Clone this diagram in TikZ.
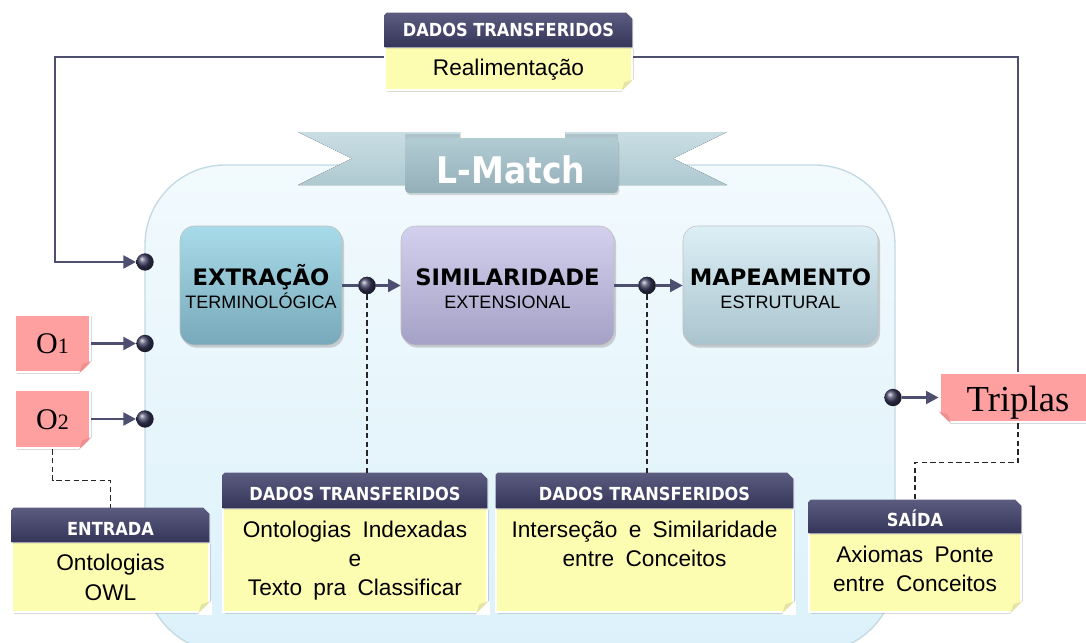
\documentclass[tikz,border=0pt]{standalone}
\usepackage{fontspec}
\setmainfont{Liberation Sans}
\newfontfamily\tahoma[FakeStretch=0.9]{DejaVu Sans}
\newfontfamily\verd{DejaVu Sans}
\newfontfamily\tms{Liberation Serif}
\usetikzlibrary{arrows.meta,shadows,calc,fit}
\definecolor{navyT}{HTML}{5C5C80}
\definecolor{navyB}{HTML}{35355A}
\definecolor{notey}{HTML}{FDFDB2}
\definecolor{noteflap}{HTML}{E4E4A6}
\definecolor{pinkc}{HTML}{FFA0A0}
\definecolor{pinkflap}{HTML}{EE8E8E}
\definecolor{linec}{HTML}{4E4E70}
\definecolor{dotc}{HTML}{3A3A5E}
\definecolor{contT}{HTML}{F2FAFD}
\definecolor{contB}{HTML}{DCF1FA}
\definecolor{contb}{HTML}{C3D9E3}
\definecolor{ribT}{HTML}{C9DEE4}
\definecolor{ribB}{HTML}{AFC9D1}
\definecolor{ribcT}{HTML}{B2CCD4}
\definecolor{ribcB}{HTML}{94AFB8}
\definecolor{extT}{HTML}{A8DBE9}
\definecolor{extB}{HTML}{78A9BA}
\definecolor{simT}{HTML}{D3D0EE}
\definecolor{simB}{HTML}{A5A1C6}
\definecolor{mapT}{HTML}{DCEFF6}
\definecolor{mapB}{HTML}{AAC4CE}
\newcommand{\widesp}{\spaceskip=0.5em plus 0.1em\relax}
\newcommand{\foldSE}[2]{%
  \fill[white] ($(#1.south east)+(-13,1.5)$) -- ($(#1.south east)+(1.5,1.5)$) -- ($(#1.south east)+(1.5,-13)$) -- cycle;
  \fill[#2] ($(#1.south east)+(-12,0)$) -- ($(#1.south east)+(-9,-9)$) -- ($(#1.south east)+(0,-12)$) -- cycle;}
\newcommand{\foldSW}[2]{%
  \fill[white] ($(#1.south west)+(13,1.5)$) -- ($(#1.south west)+(-1.5,1.5)$) -- ($(#1.south west)+(-1.5,-13)$) -- cycle;
  \fill[#2] ($(#1.south west)+(12,0)$) -- ($(#1.south west)+(9,-9)$) -- ($(#1.south west)+(0,-12)$) -- cycle;}
\newcommand{\hdrshape}[1]{%
  \path[top color=navyT, bottom color=navyB, drop shadow={shadow xshift=0.8pt, shadow yshift=-1pt, opacity=0.25}]
    (#1.south west) -- ($(#1.north west)+(0,2)$) -- ($(#1.north west)+(2,0)$) -- ($(#1.north east)+(-6,0)$)
    -- ($(#1.north east)+(0,6)$) -- (#1.south east) -- cycle;}
\tikzset{
  hdr/.style={rectangle, inner sep=0pt, draw=none},
  hdrtxt/.style={anchor=base, inner sep=0pt, text=white, font=\tahoma\bfseries\fontsize{13.5}{16}\selectfont},
  note/.style={rectangle, inner sep=0pt, fill=notey, draw=white, line width=2pt,
    drop shadow={shadow xshift=1.2pt, shadow yshift=-1.8pt, opacity=0.3}},
  notetxt/.style={anchor=base, inner sep=0pt, font=\fontsize{17}{22}\selectfont\widesp},
  pinkbox/.style={rectangle, inner sep=0pt, fill=pinkc, draw=white, line width=2pt,
    drop shadow={shadow xshift=1.2pt, shadow yshift=-1.8pt, opacity=0.3}},
  proc/.style={rectangle, rounded corners=11pt, inner sep=0pt, draw=black!25, line width=0.4pt,
    drop shadow={shadow xshift=1.5pt, shadow yshift=-2pt, opacity=0.35}},
  ptitle/.style={anchor=base, inner sep=0pt, font=\verd\bfseries\fontsize{17}{18}\selectfont},
  psub/.style={anchor=base, inner sep=0pt, font=\fontsize{13.5}{16}\selectfont},
  dot/.style={circle, inner sep=0pt, minimum size=13pt, shading=ball, ball color=dotc},
  ln/.style={draw=linec, line width=2.2pt},
  arr/.style={-{Triangle[length=9.5pt,width=9.5pt]}},
  dsh/.style={draw=black!85, line width=0.9pt, dash pattern=on 4pt off 2.5pt},
}
\begin{document}
\begin{tikzpicture}[x=0.75pt,y=-0.75pt]
\useasboundingbox (0,0) rectangle (1086,643);
% container
\path[draw=contb, line width=1pt, top color=contT, bottom color=contB, rounded corners=60pt]
  (145,165) rectangle (895,652);
% ribbon
\fill[top color=ribT, bottom color=ribB] (298,132) -- (460,132) -- (460,185) -- (298,185) -- (352,158.5) -- cycle;
\fill[top color=ribT, bottom color=ribB] (727,132) -- (565,132) -- (565,185) -- (727,185) -- (673,158.5) -- cycle;
\fill[ribcB!80!black, opacity=0.3] (405,134) rectangle (460,140);
\fill[ribcB!80!black, opacity=0.3] (565,134) rectangle (618,140);
\node[rectangle, inner sep=0pt, rounded corners=3pt, top color=ribcT, bottom color=ribcB,
  drop shadow={shadow xshift=1pt, shadow yshift=-1.5pt, opacity=0.3}, fit={(405,138) (618,193)}] (ban) {};
\node[text=white, anchor=base, inner sep=0pt, font=\tahoma\bfseries\fontsize{27.5}{30}\selectfont] (bant) at (511,183) {L-Match};
% top note
\node[note, fit={(385,47) (632,90)}] (b0) {};
\foldSE{b0}{noteflap}
\node[notetxt] (t0) at (508.5,75) {Realimenta\c{c}\~ao};
\node[hdr, fit={(385,13) (632,47)}] (h0) {};
\hdrshape{h0}
\node[hdrtxt] (h0t) at ($(h0.center)+(0,6.5)$) {DADOS TRANSFERIDOS};
% process boxes
\node[proc, top color=extT, bottom color=extB, fit={(180,226) (342,345)}] (ext) {};
\node[ptitle] (extA) at (261,285) {EXTRA\c{C}\~AO};
\node[psub] (extB) at (261,308.5) {TERMINOL\'OGICA};
\node[proc, top color=simT, bottom color=simB, fit={(401,226) (614,345)}] (sim) {};
\node[ptitle] (simA) at (507.5,285) {SIMILARIDADE};
\node[psub] (simB) at (507.5,308.5) {EXTENSIONAL};
\node[proc, top color=mapT, bottom color=mapB, fit={(683,226) (878,345)}] (map) {};
\node[ptitle] (mapA) at (780.5,285) {MAPEAMENTO};
\node[psub] (mapB) at (780.5,308.5) {ESTRUTURAL};
% pink boxes
\node[pinkbox, fit={(15,315) (90,372)}] (o1) {};
\foldSE{o1}{pinkflap}
\node[anchor=base, inner sep=0pt, font=\tms\fontsize{22.5}{24}\selectfont] (o1t) at (52.5,353.5) {O{\fontsize{16.5}{18}\selectfont 1}};
\node[pinkbox, fit={(15,390) (90,448)}] (o2) {};
\foldSE{o2}{pinkflap}
\node[anchor=base, inner sep=0pt, font=\tms\fontsize{22.5}{24}\selectfont] (o2t) at (52.5,429) {O{\fontsize{16.5}{18}\selectfont 2}};
\node[pinkbox, fit={(940,373) (1096,422)}] (trip) {};
\foldSW{trip}{pinkflap}
\node[anchor=base, inner sep=0pt, font=\tms\fontsize{27.5}{30}\selectfont] (tript) at (1018,411) {Triplas};
% bottom notes
\node[note, fit={(12,542) (209,612)}] (b1) {};
\foldSE{b1}{noteflap}
\node[notetxt] (b1a) at (110.5,570) {Ontologias};
\node[notetxt] (b1b) at (110.5,600) {OWL};
\node[hdr, fit={(12,508) (209,542)}] (h1) {};
\hdrshape{h1}
\node[hdrtxt] (h1t) at (110.5,535) {ENTRADA};
\node[note, fit={(223,508) (487,612)}] (b2) {};
\foldSE{b2}{noteflap}
\node[notetxt] (b2a) at (355,537) {Ontologias Indexadas};
\node[notetxt] (b2b) at (355,566) {e};
\node[notetxt] (b2c) at (355,595) {Texto pra Classificar};
\node[hdr, fit={(223,473) (487,508)}] (h2) {};
\hdrshape{h2}
\node[hdrtxt] (h2t) at (355,500) {DADOS TRANSFERIDOS};
\node[note, fit={(496,508) (793,612)}] (b3) {};
\foldSE{b3}{noteflap}
\node[notetxt] (b3a) at (644.5,537) {Interse\c{c}\~ao e Similaridade};
\node[notetxt] (b3b) at (644.5,566) {entre Conceitos};
\node[hdr, fit={(496,473) (793,508)}] (h3) {};
\hdrshape{h3}
\node[hdrtxt] (h3t) at (644.5,500) {DADOS TRANSFERIDOS};
\node[note, fit={(809,533) (1021,612)}] (b4) {};
\foldSE{b4}{noteflap}
\node[notetxt] (b4a) at (915,562) {Axiomas Ponte};
\node[notetxt] (b4b) at (915,591) {entre Conceitos};
\node[hdr, fit={(809,500) (1021,533)}] (h4) {};
\hdrshape{h4}
\node[hdrtxt] (h4t) at (915,526) {SA\'IDA};
% dots
\node[dot] (df) at (145,262) {};
\node[dot] (do1) at (145,343.5) {};
\node[dot] (do2) at (145,419) {};
\node[dot] (d1) at (367,285.5) {};
\node[dot] (d2) at (647,285.5) {};
\node[dot] (dt) at (893,397.5) {};
% feedback
\coordinate (fbL) at (55,57);
\draw[ln] (trip.north) -- (trip.north |- fbL) -- (b0.east |- fbL);
\draw[ln, arr] (b0.west |- fbL) -- (fbL) |- (df);
% connectors
\draw[ln] (ext) -- (d1);
\draw[ln, arr] (d1) -- (sim);
\draw[ln] (sim) -- (d2);
\draw[ln, arr] (d2) -- (map);
\draw[ln, arr] (o1) -- (do1);
\draw[ln, arr] (o2) -- (do2);
\draw[ln, arr] (dt) -- (trip);
% redraw dots on top
\node[dot] at (d1) {};
\node[dot] at (d2) {};
% dashed
\draw[dsh] (d1.south) -- (d1 |- h2.north);
\draw[dsh] (d2.south) -- (d2 |- h3.north);
\draw[dsh] (o2.south) -- ++(0,31) -| (h1.north);
\draw[dsh] (trip.south) -- ++(0,39) -| (h4.north);
\end{tikzpicture}
\end{document}
